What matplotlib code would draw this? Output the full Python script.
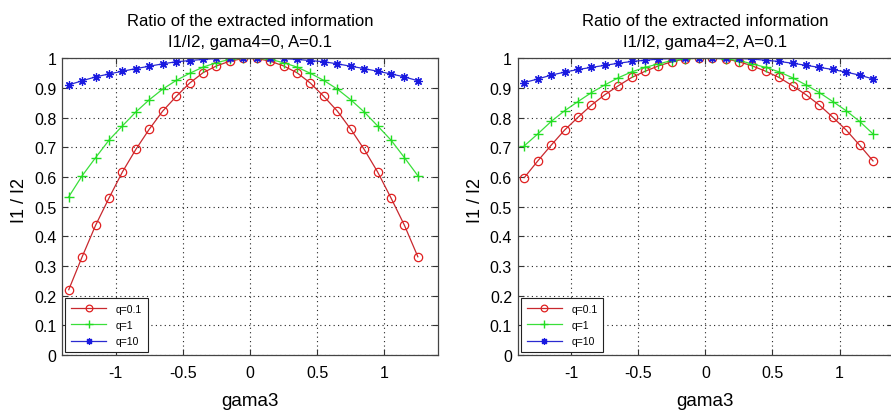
import matplotlib
matplotlib.use("Agg")
import matplotlib.pyplot as plt

plt.rcParams['font.family'] = ['Liberation Sans', 'DejaVu Sans']

# gama3 sample points
gama3 = [-1.35, -1.25, -1.15, -1.05, -0.95, -0.85, -0.75, -0.65, -0.55, -0.45,
         -0.35, -0.25, -0.15, -0.05, 0.05, 0.15, 0.25, 0.35, 0.45, 0.55,
         0.65, 0.75, 0.85, 0.95, 1.05, 1.15, 1.25]

# gama4 = 0
g0_q01 = [0.220, 0.331, 0.437, 0.529, 0.617, 0.693, 0.761, 0.822, 0.871, 0.916,
          0.951, 0.974, 0.990, 0.999, 0.999, 0.990, 0.974, 0.951, 0.916, 0.871,
          0.822, 0.761, 0.693, 0.617, 0.529, 0.437, 0.331]
g0_q1 = [0.533, 0.604, 0.665, 0.724, 0.772, 0.819, 0.860, 0.896, 0.925, 0.949,
         0.970, 0.985, 0.996, 1.000, 1.000, 0.996, 0.985, 0.970, 0.949, 0.925,
         0.896, 0.860, 0.819, 0.772, 0.724, 0.665, 0.604]
g0_q10 = [0.910, 0.924, 0.937, 0.947, 0.956, 0.965, 0.973, 0.981, 0.988, 0.992,
          0.996, 0.999, 1.000, 1.000, 1.000, 1.000, 0.999, 0.996, 0.992, 0.988,
          0.981, 0.973, 0.965, 0.956, 0.947, 0.937, 0.924]

# gama4 = 2
g2_q01 = [0.598, 0.654, 0.707, 0.758, 0.801, 0.842, 0.877, 0.907, 0.935, 0.956,
          0.974, 0.988, 0.998, 1.000, 1.000, 0.998, 0.988, 0.974, 0.956, 0.935,
          0.907, 0.877, 0.842, 0.801, 0.758, 0.707, 0.654]
g2_q1 = [0.705, 0.745, 0.787, 0.823, 0.854, 0.884, 0.910, 0.934, 0.954, 0.969,
         0.981, 0.992, 0.998, 1.000, 1.000, 0.998, 0.992, 0.981, 0.969, 0.954,
         0.934, 0.910, 0.884, 0.854, 0.823, 0.787, 0.745]
g2_q10 = [0.918, 0.930, 0.943, 0.953, 0.962, 0.969, 0.976, 0.983, 0.989, 0.993,
          0.997, 0.999, 1.000, 1.000, 1.000, 1.000, 0.999, 0.997, 0.993, 0.989,
          0.983, 0.976, 0.969, 0.962, 0.953, 0.943, 0.930]

panels = [
    ("I1/I2, gama4=0, A=0.1", g0_q01, g0_q1, g0_q10),
    ("I1/I2, gama4=2, A=0.1", g2_q01, g2_q1, g2_q10),
]

xticks = [-1, -0.5, 0, 0.5, 1]
xticklabels = ["-1", "-0.5", "0", "0.5", "1"]
yticks = [0, 0.1, 0.2, 0.3, 0.4, 0.5, 0.6, 0.7, 0.8, 0.9, 1]
yticklabels = ["0", "0.1", "0.2", "0.3", "0.4", "0.5", "0.6", "0.7", "0.8", "0.9", "1"]

fig = plt.figure(figsize=(8.91, 4.14), dpi=100)
# the right panel runs just past the canvas edge
boxes = [[0.0696, 0.140, 0.422, 0.717], [0.581, 0.140, 0.4214, 0.717]]

for box, (subtitle, r, g, b) in zip(boxes, panels):
    ax = fig.add_axes(box)
    ax.plot(gama3, r, '-', color='#c8282e', lw=0.9, marker='o', ms=6,
            mfc='none', mec='#e02020', mew=0.9, label='q=0.1')
    ax.plot(gama3, g, '-', color='#3adf3a', lw=0.9, marker='+', ms=6.5,
            mec='#22dd22', mew=1.0, label='q=1')
    ax.plot(gama3, b, '-', color='#2a2ad0', lw=0.9, marker=(8, 2, 0), ms=6,
            mec='#1a1ae0', mew=0.9, label='q=10')

    ax.set_xlim(-1.4, 1.4)
    ax.set_ylim(0, 1)
    ax.set_xticks(xticks)
    ax.set_xticklabels(xticklabels)
    ax.set_yticks(yticks)
    ax.set_yticklabels(yticklabels)
    ax.tick_params(direction='in', top=True, right=True, length=4,
                   width=0.8, color='#333333', labelsize=11.5)
    ax.tick_params(axis='x', pad=7)
    ax.tick_params(axis='y', pad=4)
    for s in ax.spines.values():
        s.set_color('#444444')
        s.set_linewidth(0.9)
    ax.grid(True, linestyle=(0, (1, 3)), color='#222222', lw=0.8)

    ax.set_title("Ratio of the extracted information\n" + subtitle,
                 fontsize=12, pad=9, linespacing=1.45)
    ax.set_xlabel("gama3", fontsize=13.5)
    ax.xaxis.set_label_coords(0.5, -0.125)
    ax.set_ylabel("I1 / I2", fontsize=13)
    ax.yaxis.set_label_coords(-0.09, 0.525)

    leg = ax.legend(loc='lower left', fontsize=7.5, handlelength=3.4,
                    borderaxespad=0.3, fancybox=False, framealpha=1,
                    edgecolor='#222222', labelspacing=0.6, borderpad=0.55,
                    handletextpad=0.9, markerscale=0.8)
    leg.get_frame().set_linewidth(0.8)

fig.savefig("out.png", dpi=100)
